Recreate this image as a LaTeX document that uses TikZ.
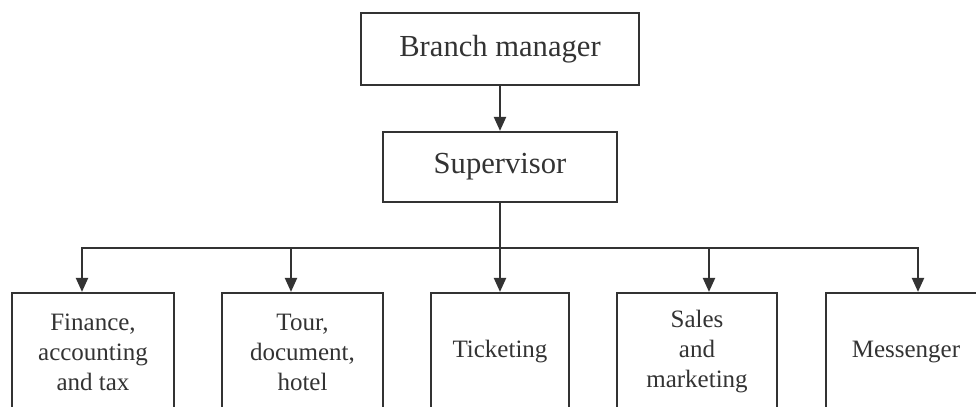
\documentclass[tikz,border=0pt]{standalone}
\usepackage{fontspec}
\setmainfont{Liberation Serif}
\usetikzlibrary{arrows.meta}
\definecolor{ink}{HTML}{333333}

\begin{document}
\begin{tikzpicture}[x=0.5pt, y=-0.5pt,
  topbox/.style={draw=ink, line width=1.1pt, inner sep=0pt, minimum height=36pt,
    font=\fontsize{15.3}{18}\selectfont, text=ink},
  unitbox/.style={draw=ink, line width=1.1pt, inner sep=0pt, minimum height=59pt,
    align=center, font=\fontsize{12.5}{15}\selectfont, text=ink},
  link/.style={draw=ink, line width=1.1pt},
  arr/.style={link, -{Triangle[width=6pt,length=7pt]}}]
\useasboundingbox (0,0) rectangle (976,407);
\clip (0,0) rectangle (976,407);

\node[topbox, minimum width=139pt] (branch) at (500,49) {Branch manager};
\node[topbox, minimum width=117pt, minimum height=35pt] (super) at (500,167) {Supervisor};

\node[unitbox, minimum width=81pt] (fin) at (93,352) {Finance,\\accounting\\and tax};
\node[unitbox, minimum width=80.5pt] (tour) at (302.5,352) {Tour,\\document,\\hotel};
\node[unitbox, minimum width=69pt] (tick) at (500,352) {Ticketing};
\node[unitbox, minimum width=80pt] (sales) at (697,352) {Sales\\and\\marketing};
\node[unitbox, minimum width=80pt] (mess) at (906,352) {Messenger};

\coordinate (bus) at (500,248);
\foreach \n/\x in {1/82, 2/291, 3/500, 4/709, 5/918}
  \coordinate (t\n) at (\x,248);

\draw[arr] (branch) -- (super);
\draw[link] (super) -- (bus);
\draw[link, line cap=rect] (t1) -- (t5);
\foreach \t/\b in {t1/fin, t2/tour, t3/tick, t4/sales, t5/mess}
  \draw[arr] (\t) -- (\t |- \b.north);
\end{tikzpicture}
\end{document}
